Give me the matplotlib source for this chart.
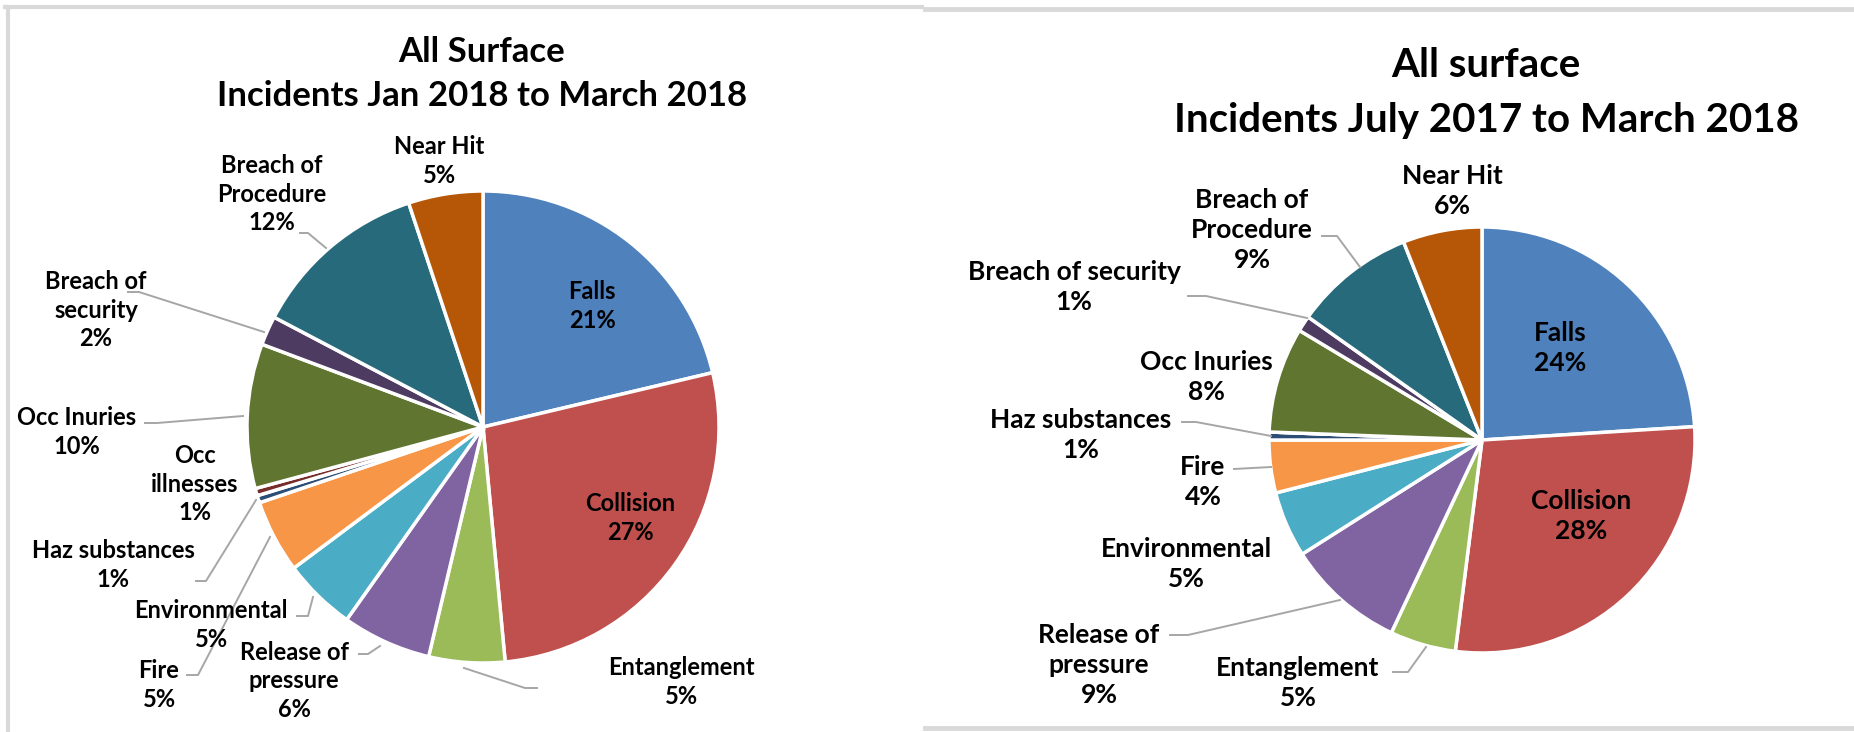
import matplotlib.pyplot as plt
from matplotlib.lines import Line2D

plt.rcParams['font.family'] = ['Lato', 'DejaVu Sans']

# Data (share of incidents, %)
categories = ["Falls", "Collision", "Entanglement", "Release of pressure",
              "Environmental", "Fire", "Haz substances", "Occ illnesses",
              "Occ Inuries", "Breach of security", "Breach of Procedure", "Near Hit"]
colors = ["#4F81BD", "#C0504D", "#9BBB59", "#8064A2", "#4BACC6", "#F79646",
          "#2C4D75", "#772C2A", "#5F7530", "#4D3B62", "#276A7C", "#B65708"]

jan_mar_share = [21.3, 27.2, 5.2, 6.1, 5.0, 5.0, 0.5, 0.5, 9.9, 2.0, 12.2, 5.1]
jan_mar_labels = [21, 27, 5, 6, 5, 5, 1, 1, 10, 2, 12, 5]

jul_mar_share = [24.0, 28.0, 5.0, 9.0, 5.0, 4.0, 0.6, 0.0, 8.0, 1.2, 9.2, 6.0]
jul_mar_labels = [24, 28, 5, 9, 5, 4, 1, 0, 8, 1, 9, 6]

W, H = 1854, 732
fig = plt.figure(figsize=(W / 100, H / 100), dpi=100)
fig.patch.set_facecolor("white")


def fpos(x, y):
    return x / W, 1 - y / H


def add_pie(cx, cy, r, values):
    pad = 1.05
    ax = fig.add_axes([(cx - r * pad) / W, (H - cy - r * pad) / H,
                       2 * r * pad / W, 2 * r * pad / H])
    ax.pie(values, colors=colors, startangle=90, counterclock=False, radius=1,
           wedgeprops=dict(edgecolor="white", linewidth=2.5))
    ax.set_xlim(-pad, pad)
    ax.set_ylim(-pad, pad)
    ax.set_aspect("equal")
    ax.axis("off")
    return ax


def line(pts, color="#A6A6A6", lw=1.4):
    xs = [p[0] / W for p in pts]
    ys = [1 - p[1] / H for p in pts]
    fig.add_artist(Line2D(xs, ys, transform=fig.transFigure, color=color, lw=lw))


def label(x, y, name, pct, size, spacing=1.3):
    fig.text(*fpos(x, y), f"{name}\n{pct}%", ha="center", va="center",
             fontsize=size, fontweight="bold", linespacing=spacing)


# chart frames
frame = "#D9D9D9"
line([(8, 7), (8, 732)], frame, 3)
line([(5, 7), (922, 7)], frame, 3)
line([(925, 9), (1854, 9)], frame, 3.5)
line([(925, 728), (1854, 728)], frame, 3.5)

# ---- left chart ----
add_pie(483, 427, 236, jan_mar_share)
fig.text(*fpos(482, 74), "All Surface\nIncidents Jan 2018 to March 2018",
         ha="center", va="center", fontsize=25, fontweight="bold", linespacing=1.45)

L = jan_mar_labels
ls = 17
label(592, 306, "Falls", L[0], ls)
label(630, 518, "Collision", L[1], ls)
label(681, 682, "Entanglement", L[2], ls)
label(294, 681, "Release of\npressure", L[3], ls)
label(211, 625, "Environmental", L[4], ls)
label(159, 685, "Fire", L[5], ls)
label(113, 565, "Haz substances", L[6], ls)
label(195, 484, "Occ\nillnesses", L[7], ls)
label(77, 432, "Occ Inuries", L[8], ls)
label(96, 310, "Breach of\nsecurity", L[9], ls)
label(272, 194, "Breach of\nProcedure", L[10], ls)
label(439, 161, "Near Hit", L[11], ls)

line([(537, 688), (525, 688), (464, 668)])
line([(359, 654), (368, 654), (380, 646)])
line([(297, 616), (308, 616), (313, 597)])
line([(187, 675), (198, 675), (270, 537)])
line([(196, 581), (206, 581), (256, 500)])
line([(145, 423), (157, 423), (243, 416)])
line([(128, 292), (139, 292), (264, 332)])
line([(300, 233), (308, 233), (326, 248)])

# ---- right chart ----
add_pie(1482, 440, 213, jul_mar_share)
fig.text(*fpos(1486, 93), "All surface\nIncidents July 2017 to March 2018",
         ha="center", va="center", fontsize=29, fontweight="bold", linespacing=1.6)

R = jul_mar_labels
rs = 19
label(1560, 348, "Falls", R[0], rs)
label(1581, 516, "Collision", R[1], rs)
label(1298, 683, "Entanglement", R[2], rs)
label(1099, 665, "Release of\npressure", R[3], rs)
label(1186, 564, "Environmental", R[4], rs)
label(1203, 482, "Fire", R[5], rs)
label(1081, 435, "Haz substances", R[6], rs)
label(1206, 377, "Occ Inuries", R[8], rs)
label(1074, 287, "Breach of security", R[9], rs)
label(1252, 230, "Breach of\nProcedure", R[10], rs)
label(1452, 191, "Near Hit", R[11], rs)

line([(1393, 672), (1408, 672), (1426, 647)])
line([(1170, 635), (1188, 635), (1340, 600)])
line([(1234, 469), (1271, 467)])
line([(1182, 422), (1196, 422), (1271, 436)])
line([(1188, 296), (1206, 296), (1307, 318)])
line([(1322, 236), (1337, 236), (1360, 267)])

fig.savefig("out.png", dpi=100, facecolor="white")
